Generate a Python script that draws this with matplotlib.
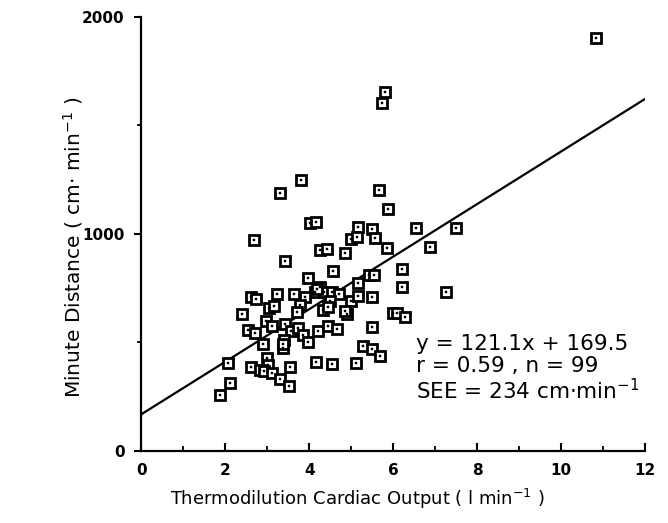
import matplotlib
matplotlib.use("Agg")
import matplotlib.pyplot as plt
import numpy as np

# thermodilution cardiac output (l/min) vs minute distance (cm/min)
cardiac_output = [
    10.82, 5.80, 5.72, 3.79, 3.30, 5.65, 5.87, 4.01, 4.15, 2.68,
    5.15, 5.50, 6.55, 7.49, 5.00, 5.13, 5.56, 4.25, 4.42, 4.85,
    5.85, 6.87, 3.42, 4.57, 3.97, 5.42, 5.53, 6.20, 5.16, 6.20,
    7.25, 4.25, 4.13, 4.35, 4.53, 4.70, 3.89, 4.48, 4.98, 5.16,
    5.50, 3.77, 4.33, 4.45, 4.90, 4.86, 6.00, 6.09, 6.27, 2.62,
    2.74, 3.24, 3.63, 3.04, 3.15, 2.39, 3.71, 2.96, 3.10, 2.54,
    2.71, 3.42, 3.56, 3.74, 3.86, 3.96, 4.21, 4.45, 4.65, 5.50,
    3.40, 3.37, 2.90, 5.27, 5.50, 5.68, 4.15, 4.54, 5.10, 2.06,
    2.98, 3.02, 2.60, 2.82, 2.93, 3.11, 3.29, 3.51, 3.54, 2.11,
    1.86, 3.37, 4.18,
]
minute_distance = [
    1903, 1654, 1605, 1251, 1188, 1203, 1115, 1051, 1055, 972,
    1030, 1021, 1028, 1028, 976, 988, 980, 925, 929, 911,
    934, 941, 876, 828, 796, 811, 812, 837, 773, 757,
    734, 758, 733, 733, 734, 725, 708, 693, 693, 714,
    710, 671, 650, 665, 631, 647, 637, 635, 616, 708,
    700, 725, 725, 658, 668, 631, 640, 600, 576, 558,
    544, 585, 555, 567, 535, 502, 551, 575, 560, 573,
    512, 473, 491, 485, 470, 438, 412, 399, 404, 404,
    427, 398, 388, 371, 369, 358, 333, 298, 388, 313,
    258, 493, 748,
]

slope = 121.1
intercept = 169.5
x_ticks = [0, 2, 4, 6, 8, 10, 12]
y_ticks = [0, 1000, 2000]

plt.rcParams["font.family"] = ["DejaVu Sans"]

fig = plt.figure(figsize=(6.68, 5.23), dpi=100)
ax = fig.add_axes([0.2118, 0.1377, 0.754, 0.8298])

# regression line
fit_x = np.array([0, 12])
ax.plot(fit_x, slope * fit_x + intercept, color="black", lw=1.6, zorder=2)

# open squares with a dot in the middle
ax.plot(cardiac_output, minute_distance, ls="none", marker="s", ms=6.6,
        mfc="white", mec="black", mew=2.0, zorder=3)
ax.plot(cardiac_output, minute_distance, ls="none", marker="s", ms=1.5,
        mfc="black", mec="black", mew=0.3, zorder=4)

ax.set_xlim(0, 12)
ax.set_ylim(0, 2000)
ax.set_xticks(x_ticks)
ax.set_xticks(range(0, 13), minor=True)
ax.set_yticks(y_ticks)
ax.set_yticks([500, 1500], minor=True)

for side in ["top", "right"]:
    ax.spines[side].set_visible(False)
for side in ["left", "bottom"]:
    ax.spines[side].set_linewidth(1.6)

ax.tick_params(axis="x", which="major", direction="in", length=6, width=1.5,
               pad=9, labelsize=11)
ax.tick_params(axis="x", which="minor", direction="in", length=3.5, width=1.3)
ax.tick_params(axis="y", which="major", direction="out", length=5, width=1.5,
               pad=7, labelsize=11)
ax.tick_params(axis="y", which="minor", direction="out", length=3, width=1.3)
for lbl in ax.get_xticklabels() + ax.get_yticklabels():
    lbl.set_fontweight("bold")

ax.set_xlabel("Thermodilution Cardiac Output ( l min$^{-1}$ )", fontsize=13)
ax.xaxis.set_label_coords(0.428, -0.082)
ax.set_ylabel("Minute Distance ( cm$\\cdot$ min$^{-1}$ )", fontsize=14.5)
ax.yaxis.set_label_coords(-0.112, 0.47)

ax.text(0.545, 0.27, "y = 121.1x + 169.5\nr = 0.59 , n = 99\nSEE = 234 cm$\\cdot$min$^{-1}$",
        transform=ax.transAxes, fontsize=15.5, va="top", ha="left", linespacing=1.12)

fig.savefig("out.png", dpi=100)
plt.close(fig)
